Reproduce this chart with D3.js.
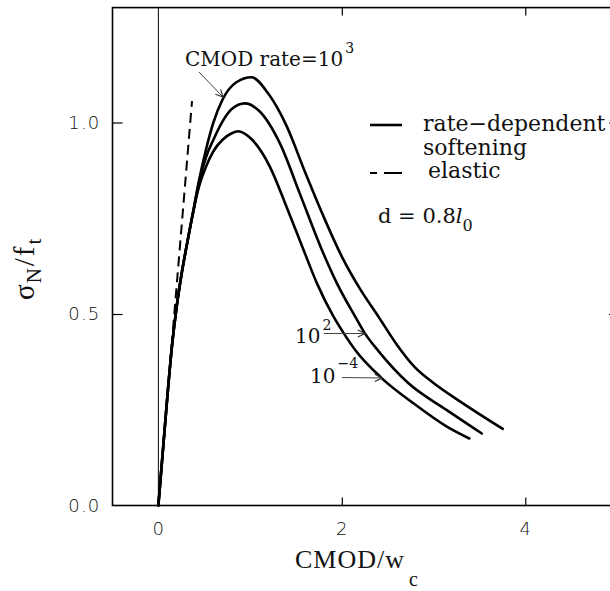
<!DOCTYPE html>
<html>
<head>
<meta charset="utf-8">
<script src="https://cdn.jsdelivr.net/npm/d3@7"></script>
<style>
  html, body { margin: 0; padding: 0; background: #fff; }
  svg { display: block; }
</style>
</head>
<body>
<svg id="chart" width="610" height="591"></svg>
<script>
// ---- data ----
const sharedRise = [[0,0],[0.05,0.145],[0.10,0.29],[0.15,0.42],[0.20,0.52],[0.25,0.60],[0.31,0.68],[0.37,0.755]];
const rate1e3 = [[0.44,0.845],[0.52,0.93],[0.60,1.0],[0.70,1.06],[0.85,1.105],[1.015,1.118],[1.2,1.075],[1.4,0.99],[1.6,0.87],[1.8,0.755],[2.0,0.65],[2.2,0.565],[2.4,0.493],[2.6,0.42],[2.8,0.36],[3.0,0.32],[3.3,0.27],[3.755,0.20]];
const rate1e2 = [[0.44,0.84],[0.52,0.91],[0.60,0.955],[0.70,1.003],[0.80,1.035],[0.942,1.05],[1.1,1.03],[1.324,0.946],[1.541,0.815],[1.783,0.667],[1.947,0.58],[2.146,0.493],[2.25,0.45],[2.40,0.403],[2.727,0.319],[3.145,0.249],[3.526,0.188]];
const rate1em4 = [[0.44,0.83],[0.52,0.885],[0.60,0.925],[0.70,0.955],[0.80,0.972],[0.87,0.977],[1.0,0.96],[1.215,0.885],[1.397,0.78],[1.583,0.667],[1.729,0.58],[1.91,0.493],[2.02,0.45],[2.146,0.406],[2.437,0.332],[2.78,0.267],[3.145,0.206],[3.39,0.175]];
const elastic = [[0,0],[0.367,1.056]];
const xTickValues = [0, 2, 4];
const yTickValues = [0, 0.5, 1.0];
const xDomain = [-0.5, 5];
const yDomain = [0, 1.3];

// ---- scales ----
const svg = d3.select("#chart");
const x = d3.scaleLinear().domain(xDomain).range([112.5, 617]);
const y = d3.scaleLinear().domain(yDomain).range([505.5, 7.6]);

const sansFont = "'DejaVu Sans', 'Liberation Sans', sans-serif";
const serifFont = "'DejaVu Serif', serif";
const titleFont = "'Liberation Serif', 'Times New Roman', serif";

// frame
svg.append("rect")
  .attr("x", x(xDomain[0])).attr("y", y(yDomain[1]))
  .attr("width", x(xDomain[1]) - x(xDomain[0]))
  .attr("height", y(yDomain[0]) - y(yDomain[1]))
  .attr("fill", "none").attr("stroke", "#000").attr("stroke-width", 1.6);

// axes
const gL = svg.append("g").attr("transform", `translate(${x(xDomain[0])},0)`)
  .call(d3.axisLeft(y).tickValues(yTickValues).tickSize(-10).tickPadding(12).tickFormat(d3.format(".1f")));
const gB = svg.append("g").attr("transform", `translate(0,${y(0)})`)
  .call(d3.axisBottom(x).tickValues(xTickValues).tickSize(-8).tickPadding(17).tickFormat(d3.format("d")));
const gT = svg.append("g").attr("transform", `translate(0,${y(yDomain[1])})`)
  .call(d3.axisTop(x).tickValues([2, 4]).tickSize(-8).tickFormat(""));
const gR = svg.append("g").attr("transform", `translate(${x(xDomain[1])},0)`)
  .call(d3.axisRight(y).tickValues([0.5, 1.0]).tickSize(-8).tickFormat(""));

[gL, gB, gT, gR].forEach(g => {
  g.select(".domain").remove();
  g.selectAll(".tick line").attr("stroke", "#000").attr("stroke-width", 1.2);
  g.selectAll("text").attr("font-family", sansFont).attr("font-size", 18)
    .attr("font-weight", 300).attr("fill", "#111").attr("letter-spacing", 1.2);
});
gL.selectAll(".tick").filter(d => d === 0).select("line").remove();
gB.selectAll(".tick").filter(d => d === 0).select("line").remove();

// vertical zero line
svg.append("line")
  .attr("x1", x(0)).attr("x2", x(0)).attr("y1", y(0)).attr("y2", y(yDomain[1]))
  .attr("stroke", "#000").attr("stroke-width", 1);

// curves
const line = d3.line().x(d => x(d[0])).y(d => y(d[1])).curve(d3.curveMonotoneX);
[rate1em4, rate1e2, rate1e3].forEach(c => {
  svg.append("path").datum(sharedRise.concat(c))
    .attr("d", line).attr("fill", "none").attr("stroke", "#000")
    .attr("stroke-width", 2.6).attr("stroke-linejoin", "round").attr("stroke-linecap", "round");
});

// elastic line
svg.append("path").datum(elastic)
  .attr("d", d3.line().x(d => x(d[0])).y(d => y(d[1])))
  .attr("fill", "none").attr("stroke", "#000").attr("stroke-width", 2)
  .attr("stroke-dasharray", "10,6");

// arrow marker
const defs = svg.append("defs");
defs.append("marker").attr("id", "arr").attr("viewBox", "0 0 10 10")
  .attr("refX", 9).attr("refY", 5).attr("markerWidth", 9).attr("markerHeight", 9)
  .attr("markerUnits", "userSpaceOnUse").attr("orient", "auto")
  .append("path").attr("d", "M1,1 L9,5 L1,9").attr("fill", "none")
  .attr("stroke", "#333").attr("stroke-width", 1.3);

function arrow(x1, y1, x2, y2) {
  svg.append("line").attr("x1", x1).attr("y1", y1).attr("x2", x2).attr("y2", y2)
    .attr("stroke", "#444").attr("stroke-width", 1).attr("marker-end", "url(#arr)");
}

// "CMOD rate=10^3"
const t1 = svg.append("text").attr("x", 185).attr("y", 66)
  .attr("font-family", serifFont).attr("font-size", 20).attr("fill", "#111");
t1.append("tspan").text("CMOD rate=10");
t1.append("tspan").attr("dy", -13).attr("font-size", 14).attr("dx", 2).text("3");
arrow(199, 72, 223, 97);

// 10^2
const t2 = svg.append("text").attr("x", 295).attr("y", 343)
  .attr("font-family", serifFont).attr("font-size", 20).attr("fill", "#111");
t2.append("tspan").text("10");
t2.append("tspan").attr("dy", -13).attr("font-size", 14).attr("dx", 2).text("2");
arrow(324, 333.5, 365, 333.5);

// 10^-4
const t3 = svg.append("text").attr("x", 310).attr("y", 383)
  .attr("font-family", serifFont).attr("font-size", 20).attr("fill", "#111");
t3.append("tspan").text("10");
t3.append("tspan").attr("dy", -15).attr("font-size", 14).attr("dx", 2).text("−4");
arrow(342, 377.5, 382, 378);

// legend
svg.append("line").attr("x1", 370).attr("x2", 402).attr("y1", 125).attr("y2", 125)
  .attr("stroke", "#000").attr("stroke-width", 2.6);
svg.append("text").attr("x", 423).attr("y", 131).attr("font-family", serifFont)
  .attr("font-size", 22).attr("fill", "#111").text("rate−dependent");
svg.append("text").attr("x", 423).attr("y", 155).attr("font-family", serifFont)
  .attr("font-size", 22).attr("fill", "#111").text("softening");
svg.append("line").attr("x1", 370).attr("x2", 377).attr("y1", 173).attr("y2", 173)
  .attr("stroke", "#000").attr("stroke-width", 2);
svg.append("line").attr("x1", 384).attr("x2", 402).attr("y1", 173).attr("y2", 173)
  .attr("stroke", "#000").attr("stroke-width", 2);
svg.append("text").attr("x", 428).attr("y", 178).attr("font-family", serifFont)
  .attr("font-size", 22).attr("fill", "#111").text("elastic");
const t4 = svg.append("text").attr("x", 378).attr("y", 223).attr("font-family", serifFont)
  .attr("font-size", 21).attr("fill", "#111");
t4.append("tspan").text("d = 0.8");
t4.append("tspan").attr("font-style", "italic").text("l");
t4.append("tspan").attr("dy", 8).attr("font-size", 16).text("0");

// axis titles
const tx = svg.append("text").attr("x", 295).attr("y", 568)
  .attr("font-family", titleFont).attr("font-size", 26).attr("fill", "#111")
  .attr("letter-spacing", 1);
tx.append("tspan").text("CMOD/w");
tx.append("tspan").attr("dy", 18).attr("dx", 4).attr("font-size", 20).text("c");

const ty = svg.append("text").attr("transform", "translate(34,300) rotate(-90)")
  .attr("font-family", titleFont).attr("font-size", 29).attr("fill", "#111");
ty.append("tspan").text("σ");
ty.append("tspan").attr("dy", 7).attr("dx", 1).attr("font-size", 21).text("N");
ty.append("tspan").attr("dy", -7).attr("dx", 2).text("/");
ty.append("tspan").attr("dx", 2).text("f");
ty.append("tspan").attr("dy", 7).attr("dx", 2).attr("font-size", 21).text("t");
</script>
</body>
</html>
